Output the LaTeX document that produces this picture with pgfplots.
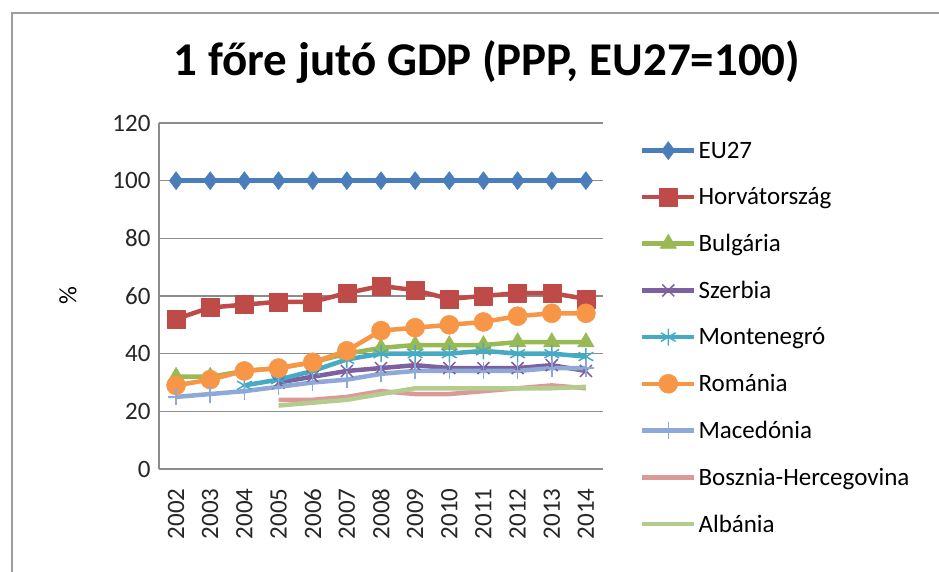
\documentclass[border=0pt]{standalone}
\usepackage{pgfplots}
\pgfplotsset{compat=1.18}
\usepackage{fontspec}
\setmainfont{Carlito}
\definecolor{ceu}{HTML}{4A7EBB}
\definecolor{chr}{HTML}{BE4B48}
\definecolor{cbg}{HTML}{98B954}
\definecolor{csr}{HTML}{7D60A0}
\definecolor{cme}{HTML}{46AAC5}
\definecolor{cro}{HTML}{F79646}
\definecolor{cmk}{HTML}{8EA8D8}
\definecolor{cba}{HTML}{DB9A98}
\definecolor{cal}{HTML}{B4CC8E}
\begin{document}
\begin{tikzpicture}
\useasboundingbox (-159pt,-103pt) rectangle (780pt,469pt);
\draw[color=black!38, line width=2pt] (-147pt,-103pt) -- (-147pt,456pt) -- (780pt,456pt);
\begin{axis}[
  at={(0pt,0pt)}, anchor=south west,
  scale only axis, width=444pt, height=346pt,
  xmin=2001.5, xmax=2014.5, ymin=0, ymax=120,
  xtick={2002,...,2014}, ytick={0,20,...,120},
  axis x line*=bottom, axis y line*=left,
  axis line style={color=black!45, line width=1.5pt},
  ymajorgrids, grid style={color=black!45, line width=1.5pt},
  major tick length=5pt,
  tick style={color=black!45, line width=1.2pt},
  xtick style={draw=none},
  /pgf/number format/assume math mode=true,
  /pgf/number format/1000 sep={},
  tick label style={font=\fontsize{25}{30}\selectfont, color=black!85},
  x tick label style={rotate=90, anchor=east},
  xticklabel shift=16pt,
  yticklabel shift=5pt,
  ylabel={\%}, ylabel style={font=\fontsize{25}{30}\selectfont, at={(axis description cs:-0.205,0.5)}, anchor=center, rotate=0},
  title={1 főre jutó GDP (PPP, EU27=100)},
  title style={font=\bfseries\fontsize{47}{52}\selectfont, at={(axis description cs:0.739,1.16)}, anchor=center},
  legend style={draw=none, fill=none, at={(axis description cs:1.083,0.952)}, anchor=north west,
     font=\fontsize{25}{30}\selectfont, row sep=24pt, inner sep=0pt, cells={anchor=west}},
  legend cell align=left,
  legend image code/.code={\draw[mark repeat=2,mark phase=2] plot coordinates {(0pt,0pt) (26pt,0pt) (52pt,0pt)};},
  every axis plot/.append style={line width=4.5pt, line join=round},
  clip=false,
]
\addplot[ceu, mark=diamond*, mark size=9pt, mark options={solid, line width=0.5pt}] coordinates {
(2002,100)(2003,100)(2004,100)(2005,100)(2006,100)(2007,100)(2008,100)(2009,100)(2010,100)(2011,100)(2012,100)(2013,100)(2014,100)};
\addlegendentry{EU27}
\addplot[chr, mark=square*, mark size=9pt, mark options={solid, line width=0.5pt}] coordinates {
(2002,52)(2003,56)(2004,57)(2005,58)(2006,58)(2007,61)(2008,63.5)(2009,62)(2010,59)(2011,60)(2012,61)(2013,61)(2014,59)};
\addlegendentry{Horvátország}
\addplot[cbg, mark=triangle*, mark size=9.5pt, mark options={solid, line width=0.5pt}] coordinates {
(2002,32)(2003,32)(2004,34)(2005,35)(2006,37)(2007,40)(2008,42)(2009,43)(2010,43)(2011,43)(2012,44)(2013,44)(2014,44)};
\addlegendentry{Bulgária}
\addplot[csr, mark=x, mark size=8.5pt, mark options={solid, line width=1.5pt}] coordinates {
(2005,30)(2006,32)(2007,34)(2008,35)(2009,36)(2010,35)(2011,35)(2012,35)(2013,36)(2014,34)};
\addlegendentry{Szerbia}
\addplot[cme, mark=asterisk, mark size=8.5pt, mark options={solid, line width=1.5pt}] coordinates {
(2004,29)(2005,31)(2006,34)(2007,38)(2008,40)(2009,40)(2010,40)(2011,41)(2012,40)(2013,40)(2014,39)};
\addlegendentry{Montenegró}
\addplot[cro, mark=*, mark size=9.5pt, mark options={solid, line width=0.5pt}] coordinates {
(2002,29)(2003,31)(2004,34)(2005,35)(2006,37)(2007,41)(2008,48)(2009,49)(2010,50)(2011,51)(2012,53)(2013,54)(2014,54)};
\addlegendentry{Románia}
\addplot[cmk, mark=+, mark size=8.5pt, mark options={solid, line width=1.5pt}] coordinates {
(2002,25)(2003,26)(2004,27)(2005,28.5)(2006,30)(2007,31)(2008,33)(2009,34)(2010,34)(2011,34)(2012,34)(2013,35)(2014,35)};
\addlegendentry{Macedónia}
\addplot[cba] coordinates {
(2005,24)(2006,24)(2007,25)(2008,27)(2009,26)(2010,26)(2011,27)(2012,28)(2013,29)(2014,28)};
\addlegendentry{Bosznia-Hercegovina}
\addplot[cal] coordinates {
(2005,22)(2006,23)(2007,24)(2008,26)(2009,28)(2010,28)(2011,28)(2012,28)(2013,28)(2014,28.5)};
\addlegendentry{Albánia}
\end{axis}
\end{tikzpicture}
\end{document}
